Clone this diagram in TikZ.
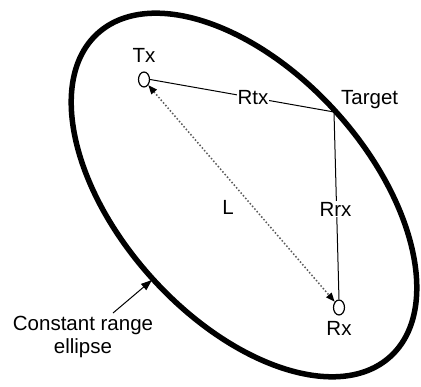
\documentclass[tikz,border=0pt]{standalone}
\usepackage{fontspec}
\setmainfont{Liberation Sans}
\usetikzlibrary{arrows.meta,shapes.geometric}
\begin{document}
\begin{tikzpicture}[x=1pt,y=1pt,
  lbl/.style={font=\fontsize{20.5}{23}\selectfont, inner sep=1pt},
  station/.style={draw, line width=1.2pt, ellipse, minimum width=11pt, minimum height=15pt, inner sep=0pt, fill=white},
  thin/.style={line width=1pt}]
\useasboundingbox (0,0) rectangle (421,387);
% constant range ellipse
\draw[line width=5.5pt, rotate around={-47.85:(244,192)}] (244,192) ellipse [x radius=218, y radius=124];
% points
\coordinate (target) at (334,275);
\node[station] (tx) at (144,307.5) {};
\node[station] (rx) at (339,79.5) {};
% labels
\node[lbl] (txl) at (144,332) {Tx};
\node[lbl] (rxl) at (339,59) {Rx};
\node[lbl, anchor=west] (targetl) at (340,287) {Target};
\node[lbl] (lL) at (228,180) {L};
\node[lbl, align=center] (cre) at (83,50) {Constant range\\ellipse};
\coordinate (ctip) at (152,107);
% connectors
\draw[thin] (tx.east) -- (target);
\draw[thin] (target) -- (rx.north);
\node[lbl, fill=white] (rtx) at (253,289) {Rtx};
\node[lbl, fill=white] (rrx) at (335.5,178) {Rrx};
\draw[line width=1.5pt, dash pattern=on 1.5pt off 2pt, gray!70!black, {Triangle[length=9pt,width=7pt,black]}-{Triangle[length=9pt,width=7pt,black]}]
  (tx.south east) -- (rx.north west);
\draw[thin, -{Triangle[length=11pt,width=8pt]}] (cre.north) ++(30,2) -- (ctip);
\end{tikzpicture}
\end{document}
